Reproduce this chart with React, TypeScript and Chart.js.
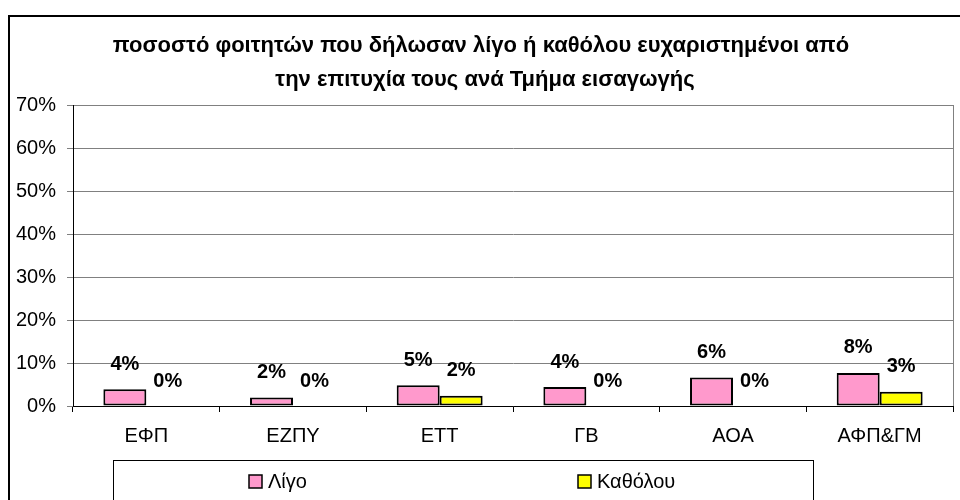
import React, { useEffect, useRef } from "react";
import { Chart, registerables } from "chart.js";

Chart.register(...registerables);

const categories = ["ΕΦΠ", "ΕΖΠΥ", "ΕΤΤ", "ΓΒ", "ΑΟΑ", "ΑΦΠ&ΓΜ"];
const ligoValues = [3.9, 2.0, 4.8, 4.4, 6.6, 7.7];
const katholouValues = [0, 0, 2.4, 0, 0, 3.3];
const ligoLabels = ["4%", "2%", "5%", "4%", "6%", "8%"];
const katholouLabels = ["0%", "0%", "2%", "0%", "0%", "3%"];
const seriesNames = ["Λίγο", "Καθόλου"];
const yTicks = [0, 10, 20, 30, 40, 50, 60, 70];
const titleLines = [
  "ποσοστό φοιτητών που δήλωσαν λίγο ή καθόλου ευχαριστημένοι από",
  "την επιτυχία τους ανά Τμήμα εισαγωγής",
];

const FONT = "'Liberation Sans', Arial, sans-serif";

const decorPlugin = {
  id: "decor",
  beforeDraw(chart: any) {
    const { ctx, chartArea } = chart;
    ctx.save();
    ctx.fillStyle = "#ffffff";
    ctx.fillRect(0, 0, chart.width, chart.height);
    // outer frame
    ctx.strokeStyle = "#000000";
    ctx.lineWidth = 2;
    ctx.beginPath();
    ctx.moveTo(9, 510);
    ctx.lineTo(9, 16);
    ctx.lineTo(970, 16);
    ctx.stroke();
    // plot area border
    ctx.strokeStyle = "#808080";
    ctx.lineWidth = 1;
    ctx.strokeRect(
      Math.round(chartArea.left) + 0.5,
      Math.round(chartArea.top) + 0.5,
      Math.round(chartArea.right - chartArea.left),
      Math.round(chartArea.bottom - chartArea.top)
    );
    ctx.restore();
  },
  afterDraw(chart: any) {
    const { ctx } = chart;
    ctx.save();
    // title
    ctx.fillStyle = "#000000";
    ctx.font = `bold 22px ${FONT}`;
    ctx.textAlign = "center";
    ctx.textBaseline = "middle";
    ctx.fillText(titleLines[0], 481, 46);
    ctx.fillText(titleLines[1], 485, 80);

    // data labels
    const labelSets = [ligoLabels, katholouLabels];
    ctx.font = `bold 20px ${FONT}`;
    chart.data.datasets.forEach((ds: any, di: number) => {
      const meta = chart.getDatasetMeta(di);
      meta.data.forEach((el: any, i: number) => {
        ctx.fillText(labelSets[di][i], el.x, el.y - 25);
      });
    });

    // legend box
    ctx.strokeStyle = "#000000";
    ctx.lineWidth = 1;
    ctx.strokeRect(113.5, 460.5, 700, 60);
    const itemX = [249, 578];
    ctx.font = `20px ${FONT}`;
    ctx.textAlign = "left";
    chart.data.datasets.forEach((ds: any, di: number) => {
      const x = itemX[di];
      ctx.fillStyle = ds.backgroundColor;
      ctx.fillRect(x, 475, 13, 13);
      ctx.strokeStyle = "#000000";
      ctx.lineWidth = 1.5;
      ctx.strokeRect(x, 475, 13, 13);
      ctx.fillStyle = "#000000";
      ctx.fillText(ds.label, x + 19, 482);
    });
    ctx.restore();
  },
};

export default function App() {
  const ref = useRef<HTMLCanvasElement | null>(null);
  useEffect(() => {
    document.body.style.margin = "0";
    if (!ref.current) return;
    const zeroBorder = (c: any) => (c.raw === 0 ? 0 : 2);
    const chart = new Chart(ref.current, {
      type: "bar",
      data: {
        labels: categories,
        datasets: [
          {
            label: seriesNames[0],
            data: ligoValues,
            backgroundColor: "#FF99CC",
            borderColor: "#000000",
            borderWidth: zeroBorder,
            borderSkipped: false,
          },
          {
            label: seriesNames[1],
            data: katholouValues,
            backgroundColor: "#FFFF00",
            borderColor: "#000000",
            borderWidth: zeroBorder,
            borderSkipped: false,
          },
        ],
      },
      options: {
        animation: false,
        responsive: false,
        devicePixelRatio: 1,
        categoryPercentage: 0.586,
        barPercentage: 1,
        layout: { padding: { top: 105, right: 7, left: 0, bottom: 0 } },
        plugins: {
          legend: { display: false },
          title: { display: false },
          tooltip: { enabled: false },
        },
        scales: {
          x: {
            afterFit: (s: any) => {
              s.height = 94;
            },
            grid: {
              offset: true,
              drawOnChartArea: false,
              drawTicks: true,
              tickLength: 6,
              color: "#000000",
            },
            border: { display: true, color: "#000000", width: 1 },
            ticks: {
              color: "#000000",
              font: { family: FONT, size: 20 },
              padding: 12,
            },
          },
          y: {
            min: 0,
            max: 70,
            afterFit: (s: any) => {
              s.width = 73;
            },
            afterBuildTicks: (s: any) => {
              s.ticks = yTicks.map((v) => ({ value: v }));
            },
            grid: {
              color: "#808080",
              tickLength: 6,
              drawTicks: true,
            },
            border: { display: true, color: "#000000", width: 1 },
            ticks: {
              color: "#000000",
              font: { family: FONT, size: 20 },
              padding: 11,
              callback: (v: any) => `${v}%`,
            },
          },
        },
      },
      plugins: [decorPlugin],
    });
    return () => chart.destroy();
  }, []);
  return <canvas ref={ref} width={960} height={500} style={{ display: "block" }} />;
}
